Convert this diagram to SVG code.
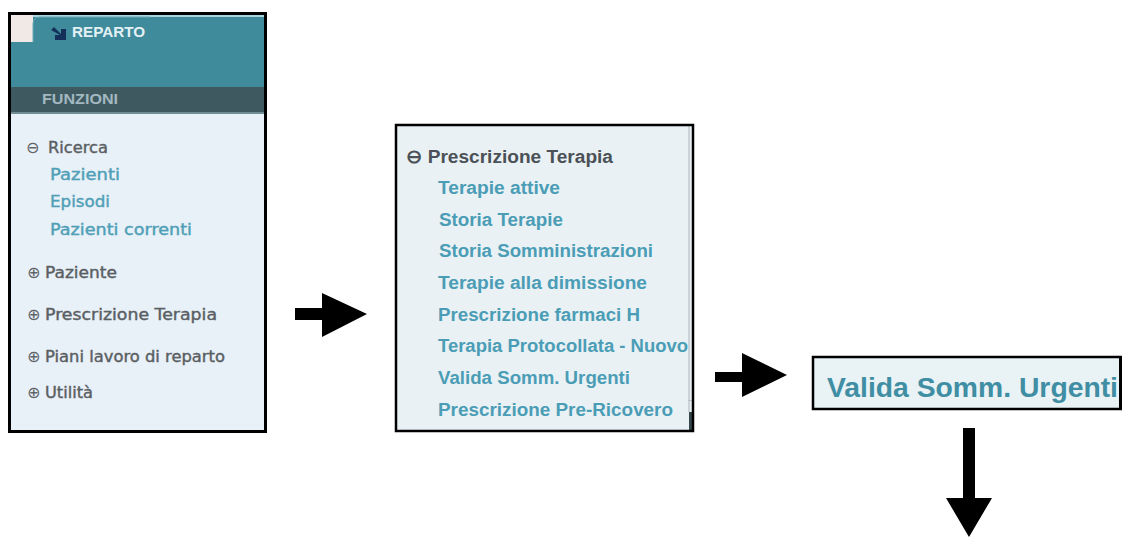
<svg xmlns="http://www.w3.org/2000/svg" width="1122" height="537" viewBox="0 0 1122 537">
<style>
.frame{stroke:#000;fill:none}
.sym{font-family:"DejaVu Sans",Verdana,sans-serif;font-size:16px;fill:#5f6468}
.h1{font-family:"DejaVu Sans",Verdana,sans-serif;font-size:15.5px;fill:#5a5f63;stroke:#5a5f63;stroke-width:0.4px}
.s1{font-family:"DejaVu Sans",Verdana,sans-serif;font-size:15.5px;fill:#4f9fb6;stroke:#4f9fb6;stroke-width:0.4px}
.h2{font-family:"Liberation Sans",Arial,sans-serif;font-weight:bold;font-size:18.7px;fill:#4b5157}
.s2{font-family:"Liberation Sans",Arial,sans-serif;font-weight:bold;font-size:18.7px;fill:#4b9db6}
.big{font-family:"Liberation Sans",Arial,sans-serif;font-weight:bold;font-size:28px;fill:#3f8ea3}
.arrow{fill:#000}
</style>
<rect width="1122" height="537" fill="#fff"/>
<g id="panel-menu">
  <rect x="9.5" y="13.5" width="256" height="418" fill="#e8f0f8"/>
  <rect x="11" y="15" width="253" height="72" fill="#3f8a9b"/>
  <rect x="11" y="15" width="253" height="2" fill="#a9d6de"/>
  <path d="M11 15 H33 V42 H11 Z" fill="#f1e9e6"/>
  <path d="M33 42 V24 Q33 17 40 17 H150" fill="none" stroke="#6aaab7" stroke-width="1"/>
  <rect x="11" y="87" width="253" height="25" fill="#3e5a60"/>
  <rect x="11" y="112" width="253" height="2" fill="#6f8d92"/>
  <path d="M51 30 L54 27 L61 34 L61 29 L66 29 L66 40 L55 40 L55 35 L60 35 Z" fill="#14305a"/>
  <text x="72" y="37" font-family="Liberation Sans,Arial,sans-serif" font-weight="bold" font-size="14px" fill="#e3f1f5" textLength="73" lengthAdjust="spacingAndGlyphs">REPARTO</text>
  <text x="42" y="104" font-family="Liberation Sans,Arial,sans-serif" font-weight="bold" font-size="15.5px" fill="#a3b8c0" textLength="76" lengthAdjust="spacingAndGlyphs">FUNZIONI</text>
  <text class="sym" x="26" y="153">⊖</text>
  <text class="h1" x="48" y="153" textLength="60" lengthAdjust="spacingAndGlyphs">Ricerca</text>
  <text class="s1" x="50" y="180" textLength="70" lengthAdjust="spacingAndGlyphs">Pazienti</text>
  <text class="s1" x="50" y="207" textLength="60" lengthAdjust="spacingAndGlyphs">Episodi</text>
  <text class="s1" x="50" y="235" textLength="142" lengthAdjust="spacingAndGlyphs">Pazienti correnti</text>
  <text class="sym" x="27" y="278">⊕</text>
  <text class="h1" x="45" y="278" textLength="72" lengthAdjust="spacingAndGlyphs">Paziente</text>
  <text class="sym" x="27" y="320">⊕</text>
  <text class="h1" x="45" y="320" textLength="172" lengthAdjust="spacingAndGlyphs">Prescrizione Terapia</text>
  <text class="sym" x="27" y="362">⊕</text>
  <text class="h1" x="45" y="362" textLength="180" lengthAdjust="spacingAndGlyphs">Piani lavoro di reparto</text>
  <text class="sym" x="27" y="398">⊕</text>
  <text class="h1" x="45" y="398" textLength="48" lengthAdjust="spacingAndGlyphs">Utilità</text>
  <rect class="frame" x="9.5" y="13.5" width="256" height="418" stroke-width="3"/>
</g>
<g id="panel-prescrizione">
  <rect x="396" y="125" width="297" height="306" fill="#e9f1f5"/>
  <rect x="688" y="126" width="2" height="286" fill="#c9d3d8"/>
  <rect x="688" y="400" width="4" height="1" fill="#b9c2c6"/>
  <rect x="689" y="412" width="3" height="18" fill="#34454c"/>
  <text class="h2" x="406" y="163" textLength="207" lengthAdjust="spacingAndGlyphs">⊖ Prescrizione Terapia</text>
  <text class="s2" x="438" y="194" textLength="122" lengthAdjust="spacingAndGlyphs">Terapie attive</text>
  <text class="s2" x="439" y="226" textLength="124" lengthAdjust="spacingAndGlyphs">Storia Terapie</text>
  <text class="s2" x="439" y="257" textLength="214" lengthAdjust="spacingAndGlyphs">Storia Somministrazioni</text>
  <text class="s2" x="438" y="289" textLength="209" lengthAdjust="spacingAndGlyphs">Terapie alla dimissione</text>
  <text class="s2" x="438" y="321" textLength="202" lengthAdjust="spacingAndGlyphs">Prescrizione farmaci H</text>
  <text class="s2" x="438" y="352" textLength="250" lengthAdjust="spacingAndGlyphs">Terapia Protocollata - Nuovo</text>
  <text class="s2" x="438" y="384" textLength="192" lengthAdjust="spacingAndGlyphs">Valida Somm. Urgenti</text>
  <text class="s2" x="438" y="416" textLength="235" lengthAdjust="spacingAndGlyphs">Prescrizione Pre-Ricovero</text>
  <rect class="frame" x="396" y="125" width="297" height="306" stroke-width="2.5"/>
</g>
<g id="panel-valida">
  <rect x="813" y="357" width="309" height="52" fill="#e9f2f5"/>
  <text class="big" x="827" y="397" textLength="291" lengthAdjust="spacingAndGlyphs">Valida Somm. Urgenti</text>
  <path d="M1122 357 H813 V409 H1122" class="frame" stroke-width="2.5"/>
  <rect x="1119" y="357" width="3" height="52" fill="#000"/>
</g>
<g id="connectors">
  <polygon class="arrow" points="295,308 322,308 322,293 367,314 322,337 322,320 295,320"/>
  <polygon class="arrow" points="715,372 742,372 742,353 787,375 742,397 742,382 715,382"/>
  <polygon class="arrow" points="963,428 975,428 975,498 992,498 969,537 946,498 963,498"/>
</g>
</svg>
